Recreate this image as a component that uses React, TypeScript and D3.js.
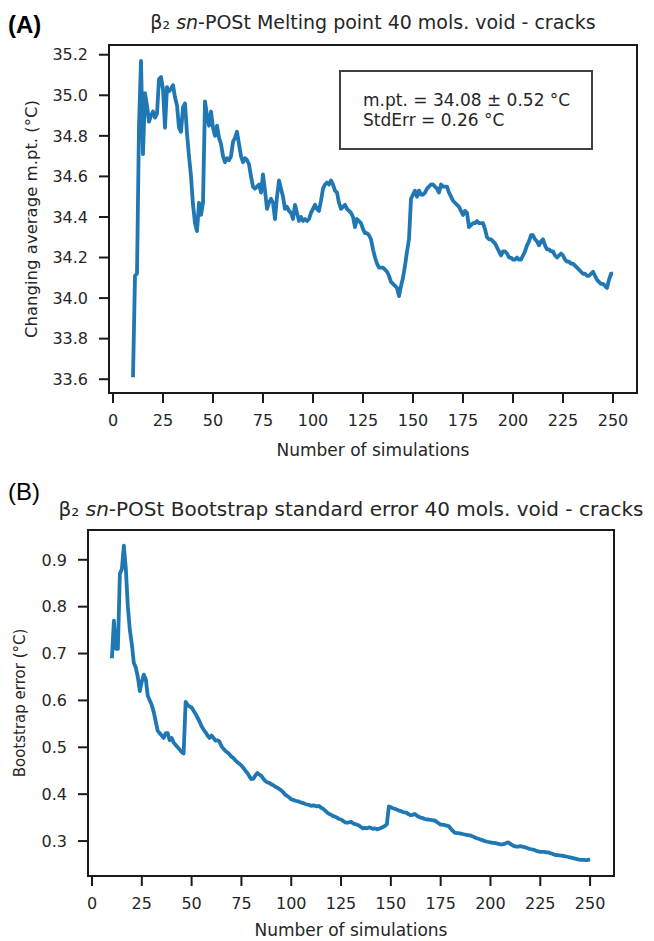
import * as d3 from "d3";

// running average of the melting point, one value per simulation count (10..250)
const FIRST_SIM = 10;

const MPT_VALUES = [
  33.61, 34.11, 34.12, 34.85, 35.17, 34.71, 35.01, 34.95, 34.87, 34.90,
  34.92, 34.89, 34.91, 35.08, 35.09, 35.03, 34.84, 35.04, 35.02, 35.03,
  35.05, 34.99, 34.95, 34.84, 34.82, 34.94, 34.96, 34.81, 34.70, 34.60,
  34.46, 34.37, 34.33, 34.47, 34.41, 34.47, 34.97, 34.90, 34.85, 34.92,
  34.84, 34.80, 34.85, 34.79, 34.76, 34.70, 34.67, 34.69, 34.68, 34.70,
  34.77, 34.79, 34.82, 34.76, 34.70, 34.67, 34.69, 34.68, 34.66, 34.60,
  34.55, 34.54, 34.55, 34.56, 34.52, 34.61, 34.53, 34.44, 34.47, 34.49,
  34.47, 34.39, 34.50, 34.58, 34.54, 34.50, 34.44, 34.45, 34.43, 34.42,
  34.39, 34.46, 34.42, 34.38, 34.40, 34.38, 34.39, 34.38, 34.39, 34.42,
  34.44, 34.46, 34.44, 34.43, 34.48, 34.54, 34.56, 34.57, 34.56, 34.58,
  34.56, 34.53, 34.52, 34.47, 34.44, 34.45, 34.46, 34.44, 34.43, 34.42,
  34.40, 34.35, 34.39, 34.38, 34.37, 34.34, 34.32, 34.32, 34.31, 34.29,
  34.24, 34.20, 34.17, 34.15, 34.15, 34.15, 34.14, 34.13, 34.11, 34.08,
  34.07, 34.06, 34.05, 34.01, 34.06, 34.10, 34.16, 34.23, 34.29, 34.49,
  34.51, 34.53, 34.50, 34.53, 34.51, 34.51, 34.52, 34.54, 34.55, 34.56,
  34.56, 34.55, 34.54, 34.52, 34.56, 34.55, 34.55, 34.55, 34.52, 34.50,
  34.48, 34.47, 34.46, 34.45, 34.43, 34.41, 34.43, 34.42, 34.35, 34.36,
  34.37, 34.37, 34.38, 34.37, 34.37, 34.37, 34.34, 34.30, 34.29, 34.29,
  34.28, 34.27, 34.25, 34.23, 34.21, 34.23, 34.23, 34.22, 34.20, 34.20,
  34.19, 34.19, 34.20, 34.19, 34.19, 34.21, 34.23, 34.26, 34.28, 34.31,
  34.31, 34.29, 34.28, 34.26, 34.28, 34.29, 34.26, 34.24, 34.24, 34.23,
  34.23, 34.21, 34.20, 34.21, 34.22, 34.21, 34.19, 34.18, 34.18, 34.17,
  34.17, 34.16, 34.15, 34.14, 34.13, 34.12, 34.12, 34.11, 34.11, 34.12,
  34.13, 34.11, 34.09, 34.08, 34.07, 34.07, 34.06, 34.05, 34.09, 34.12,
  34.12,
];

// bootstrap standard error, same simulation counts
const BOOT_VALUES = [
  0.69, 0.77, 0.71, 0.71, 0.87, 0.88, 0.93, 0.88, 0.80, 0.75,
  0.72, 0.68, 0.67, 0.65, 0.62, 0.64, 0.655, 0.645, 0.61, 0.60,
  0.59, 0.575, 0.555, 0.535, 0.53, 0.525, 0.52, 0.53, 0.53, 0.515,
  0.52, 0.51, 0.505, 0.50, 0.495, 0.49, 0.487, 0.597, 0.59, 0.587,
  0.585, 0.578, 0.571, 0.563, 0.555, 0.545, 0.538, 0.532, 0.525, 0.52,
  0.525, 0.52, 0.514, 0.515, 0.512, 0.502, 0.497, 0.492, 0.489, 0.485,
  0.48, 0.477, 0.472, 0.468, 0.465, 0.461, 0.456, 0.45, 0.445, 0.438,
  0.432, 0.433, 0.44, 0.445, 0.442, 0.439, 0.433, 0.428, 0.425, 0.424,
  0.421, 0.419, 0.416, 0.414, 0.411, 0.408, 0.404, 0.399, 0.396, 0.393,
  0.389, 0.388, 0.386, 0.385, 0.384, 0.382, 0.381, 0.379, 0.378, 0.377,
  0.375, 0.376, 0.375, 0.374, 0.375, 0.371, 0.369, 0.365, 0.361, 0.358,
  0.356, 0.353, 0.352, 0.35, 0.347, 0.346, 0.343, 0.34, 0.339, 0.34,
  0.341, 0.338, 0.336, 0.335, 0.333, 0.33, 0.327, 0.328, 0.327, 0.329,
  0.328, 0.326, 0.327, 0.325, 0.326, 0.328, 0.33, 0.332, 0.336, 0.374,
  0.372, 0.37, 0.369, 0.367, 0.365, 0.364, 0.362, 0.361, 0.36, 0.357,
  0.355, 0.356, 0.358, 0.354, 0.352, 0.35, 0.349, 0.347, 0.346, 0.346,
  0.345, 0.344, 0.344, 0.341, 0.338, 0.335, 0.335, 0.334, 0.333, 0.332,
  0.327, 0.322, 0.318, 0.317, 0.317, 0.316, 0.315, 0.314, 0.313, 0.312,
  0.312, 0.31, 0.308, 0.306, 0.305, 0.303, 0.302, 0.30, 0.299, 0.298,
  0.297, 0.296, 0.296, 0.295, 0.294, 0.293, 0.293, 0.294, 0.296, 0.297,
  0.294, 0.291, 0.289, 0.288, 0.288, 0.289, 0.288, 0.287, 0.286, 0.284,
  0.283, 0.282, 0.281, 0.279, 0.278, 0.277, 0.277, 0.277, 0.276, 0.276,
  0.274, 0.273, 0.271, 0.27, 0.27, 0.269, 0.269, 0.268, 0.267, 0.266,
  0.265, 0.264, 0.263, 0.262, 0.261, 0.26, 0.26, 0.26, 0.259, 0.26,
  0.261,
];

const X_TICKS = [0, 25, 50, 75, 100, 125, 150, 175, 200, 225, 250];
const MPT_TICKS = [33.6, 33.8, 34.0, 34.2, 34.4, 34.6, 34.8, 35.0, 35.2];
const BOOT_TICKS = [0.3, 0.4, 0.5, 0.6, 0.7, 0.8, 0.9];
const STATS_LINES = ["m.pt. = 34.08 ± 0.52 °C", "StdErr = 0.26 °C"];

const FONT = "DejaVu Sans, Verdana, sans-serif";
const BLUE = "#1f77b4";
const INK = "#1a1a1a";

type Frame = { left: number; top: number; right: number; bottom: number };

// matplotlib-style 5% padding around the data range
function padded(lo: number, hi: number): [number, number] {
  const m = (hi - lo) * 0.05;
  return [lo - m, hi + m];
}

function Panel({
  frame,
  values,
  yTicks,
  ylabel,
  ylabelX,
  ylabelSize,
  xlabelY,
}: {
  frame: Frame;
  values: number[];
  yTicks: number[];
  ylabel: string;
  ylabelX: number;
  ylabelSize: number;
  xlabelY: number;
}) {
  const sims = values.map((_, i) => FIRST_SIM + i);
  const x = d3
    .scaleLinear()
    .domain(padded(sims[0], sims[sims.length - 1]))
    .range([frame.left, frame.right]);
  const [lo, hi] = d3.extent(values) as [number, number];
  const y = d3.scaleLinear().domain(padded(lo, hi)).range([frame.bottom, frame.top]);
  const fmt = d3.format(".1f");

  const line = d3
    .line<number>()
    .x((_, i) => x(sims[i]))
    .y((d) => y(d));

  const tickLen = 10;
  const midY = (frame.top + frame.bottom) / 2;
  const midX = (frame.left + frame.right) / 2;

  return (
    <g fontFamily={FONT} fill="#262626">
      <path
        d={line(values) ?? ""}
        fill="none"
        stroke={BLUE}
        strokeWidth={3.8}
        strokeLinejoin="round"
      />
      <rect
        x={frame.left}
        y={frame.top}
        width={frame.right - frame.left}
        height={frame.bottom - frame.top}
        fill="none"
        stroke={INK}
        strokeWidth={2}
      />
      {X_TICKS.map((t) => (
        <g key={"x" + t}>
          <line
            x1={x(t)}
            x2={x(t)}
            y1={frame.bottom}
            y2={frame.bottom + tickLen}
            stroke={INK}
            strokeWidth={2}
          />
          <text x={x(t)} y={frame.bottom + 33} textAnchor="middle" fontSize={16}>
            {t}
          </text>
        </g>
      ))}
      {yTicks.map((t) => (
        <g key={"y" + t}>
          <line
            x1={frame.left - tickLen}
            x2={frame.left}
            y1={y(t)}
            y2={y(t)}
            stroke={INK}
            strokeWidth={2}
          />
          <text
            x={frame.left - 21}
            y={y(t)}
            dy="0.36em"
            textAnchor="end"
            fontSize={16}
          >
            {fmt(t)}
          </text>
        </g>
      ))}
      <text x={midX} y={xlabelY} textAnchor="middle" fontSize={17}>
        Number of simulations
      </text>
      <text
        transform={`translate(${ylabelX},${midY}) rotate(-90)`}
        textAnchor="middle"
        dy="0.36em"
        fontSize={ylabelSize}
      >
        {ylabel}
      </text>
    </g>
  );
}

function Title({ x, y, size, rest }: { x: number; y: number; size: number; rest: string }) {
  return (
    <text x={x} y={y} textAnchor="middle" fontFamily={FONT} fontSize={size} fill="#262626">
      β₂ <tspan fontStyle="italic">sn</tspan>-POSt {rest}
    </text>
  );
}

export default function App() {
  const top: Frame = { left: 109, top: 45, right: 637, bottom: 393 };
  const bottom: Frame = { left: 88, top: 530, right: 614, bottom: 876 };

  return (
    <svg
      width={654}
      height={941}
      style={{ position: "absolute", left: 0, top: 0, background: "#fff" }}
    >
      <text x={8} y={33} fontFamily="Liberation Sans, Arial, sans-serif" fontSize={24} fontWeight="bold">
        (A)
      </text>
      <Title x={(top.left + top.right) / 2} y={29} size={19} rest="Melting point 40 mols. void - cracks" />
      <Panel
        frame={top}
        values={MPT_VALUES}
        yTicks={MPT_TICKS}
        ylabel="Changing average m.pt. (°C)"
        ylabelX={31}
        ylabelSize={16.5}
        xlabelY={456}
      />
      <g fontFamily={FONT} fontSize={17} fill="#262626">
        <rect x={340} y={71} width={252} height={78} fill="#fff" stroke="#404040" strokeWidth={2} />
        {STATS_LINES.map((s, i) => (
          <text key={s} x={363} y={106 + i * 20}>
            {s}
          </text>
        ))}
      </g>

      <text x={8} y={500} fontFamily="Liberation Sans, Arial, sans-serif" fontSize={24}>
        (B)
      </text>
      <Title x={(bottom.left + bottom.right) / 2} y={516} size={20} rest="Bootstrap standard error 40 mols. void - cracks" />
      <Panel
        frame={bottom}
        values={BOOT_VALUES}
        yTicks={BOOT_TICKS}
        ylabel="Bootstrap error (°C)"
        ylabelX={20}
        ylabelSize={15}
        xlabelY={936}
      />
    </svg>
  );
}
